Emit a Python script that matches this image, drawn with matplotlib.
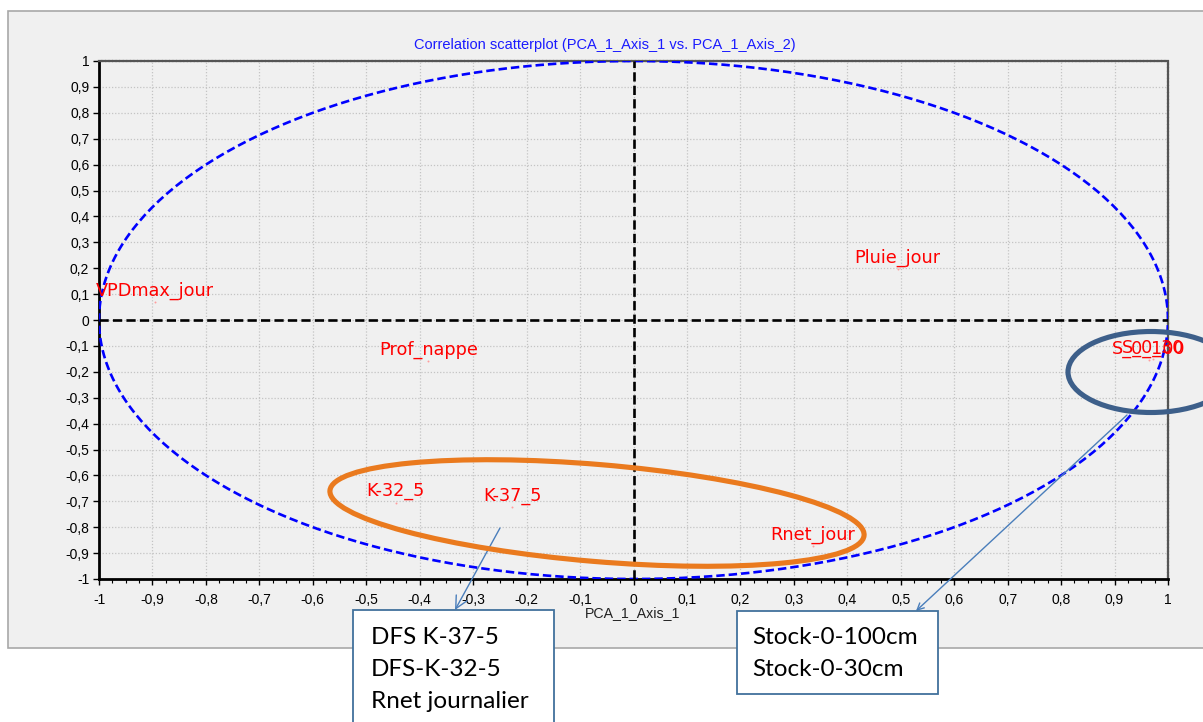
import numpy as np
import matplotlib
matplotlib.use("Agg")
import matplotlib.pyplot as plt
from matplotlib.patches import Ellipse, Rectangle
from matplotlib.ticker import MultipleLocator, FixedLocator

# ---- data ----
variables = ['VPDmax_jour', 'Pluie_jour', 'Prof_nappe', 'K-32_5', 'K-37_5',
             'Rnet_jour', 'S_0_100', 'S_0_30']
axis1 = [-0.895, 0.494, -0.384, -0.445, -0.227, 0.336, 0.964, 0.972]
axis2 = [0.071, 0.197, -0.158, -0.705, -0.721, -0.873, -0.154, -0.152]
tick_values = [round(-1 + 0.1 * i, 1) for i in range(21)]
tick_labels = [('%g' % v).replace('.', ',') for v in tick_values]
title = 'Correlation scatterplot (PCA_1_Axis_1 vs. PCA_1_Axis_2)'
xlabel = 'PCA_1_Axis_1'
box1_lines = ['DFS K-37-5', 'DFS-K-32-5', 'Rnet journalier']
box2_lines = ['Stock-0-100cm', 'Stock-0-30cm']

W, H = 1203, 722
fig = plt.figure(figsize=(W / 100, H / 100), dpi=100)
fig.patch.set_facecolor('white')

def inch(x, y):
    return (x / 100, (H - y) / 100)

# grey panel
x0, y0 = inch(8, 648)
fig.patches.append(Rectangle((x0, y0), (W - 8 + 5) / 100, (648 - 11) / 100,
                             transform=fig.dpi_scale_trans, facecolor='#f0f0f0',
                             edgecolor='#a8a8a8', linewidth=1.2, zorder=-5))

ax = fig.add_axes([99 / W, (H - 579) / H, (1168 - 99) / W, (579 - 61) / H])
ax.set_zorder(1)
ax.set_facecolor('#f0f0f0')
ax.set_xlim(-1, 1)
ax.set_ylim(-1, 1)

ax.xaxis.set_major_locator(FixedLocator(tick_values))
ax.yaxis.set_major_locator(FixedLocator(tick_values))
ax.set_xticklabels(tick_labels, fontsize=10, family='Liberation Sans')
ax.set_yticklabels(tick_labels, fontsize=10, family='Liberation Sans')
ax.xaxis.set_minor_locator(MultipleLocator(0.025))
ax.tick_params(axis='x', which='major', direction='out', length=4, width=1, pad=6)
ax.tick_params(axis='x', which='minor', direction='out', length=3, width=0.8)
ax.tick_params(axis='y', which='major', direction='out', length=4, width=1, pad=3)
ax.grid(True, which='major', color='#c4c4c4', linestyle=(0, (1, 1.5)), linewidth=0.9)
ax.set_axisbelow(True)

for s in ['left', 'bottom']:
    ax.spines[s].set_linewidth(2)
    ax.spines[s].set_color('black')
for s in ['top', 'right']:
    ax.spines[s].set_linewidth(1.6)
    ax.spines[s].set_color('#555555')
    ax.spines[s].set_linestyle((0, (1, 0.6)))

# correlation circle
t = np.linspace(0, 2 * np.pi, 400)
ax.plot(np.cos(t), np.sin(t), color='#0000ff', linewidth=1.9,
        dashes=(3.2, 1.5), zorder=3)
# axes lines
ax.plot([-1, 1], [0, 0], color='black', linewidth=1.9, dashes=(3.5, 1.6), zorder=3)
ax.plot([0, 0], [-1, 1], color='black', linewidth=1.9, dashes=(3.5, 1.6), zorder=3)

# points + labels
ax.scatter(axis1, axis2, s=2, color='#ff9c9c', zorder=4, linewidths=0)
for name, xv, yv in zip(variables, axis1, axis2):
    ax.annotate(name, (xv, yv), xytext=(0, 8), textcoords='offset points',
                ha='center', va='center', color='red', fontsize=12.7,
                family='DejaVu Sans', zorder=5, annotation_clip=False)

fig.text(605 / W, (H - 45) / H, title, color='#1a1aff', fontsize=10.5,
         family='Liberation Sans', ha='center', va='center')
fig.text(633 / W, (H - 613) / H, xlabel, color='#222222', fontsize=10.2,
         family='Liberation Sans', ha='center', va='center')

# hand-drawn highlight ellipses
c = inch(597, 513)
fig.patches.append(Ellipse(c, 5.36, 0.97, angle=-4.8, transform=fig.dpi_scale_trans,
                           fill=False, edgecolor='#ea7a1e', linewidth=3.7, zorder=6))
c = inch(1151, 372)
fig.patches.append(Ellipse(c, 1.66, 0.81, angle=0, transform=fig.dpi_scale_trans,
                           fill=False, edgecolor='#3d5f8a', linewidth=3.7, zorder=6))

# callout arrows
arrow_col = '#4a7ebb'
fig.add_artist(matplotlib.text.Annotation(
    '', xy=(455, H - 610), xycoords='figure pixels',
    xytext=(500, H - 528), textcoords='figure pixels',
    arrowprops=dict(arrowstyle='->', color=arrow_col, lw=1.0,
                    mutation_scale=22, shrinkA=0, shrinkB=0), zorder=6))
fig.add_artist(matplotlib.text.Annotation(
    '', xy=(916, H - 611), xycoords='figure pixels',
    xytext=(1127, H - 415), textcoords='figure pixels',
    arrowprops=dict(arrowstyle='->', color=arrow_col, lw=1.0,
                    mutation_scale=12, shrinkA=0, shrinkB=0), zorder=6))

# callout boxes
x0, y0 = inch(353, 740)
fig.patches.append(Rectangle((x0, y0), (554 - 353) / 100, (740 - 610) / 100,
                             transform=fig.dpi_scale_trans, facecolor='white',
                             edgecolor='#41719c', linewidth=1.3, zorder=7))
x0, y0 = inch(737, 694)
fig.patches.append(Rectangle((x0, y0), (938 - 737) / 100, (694 - 611) / 100,
                             transform=fig.dpi_scale_trans, facecolor='white',
                             edgecolor='#41719c', linewidth=1.3, zorder=7))
line_y = [638, 670, 702]
for line, yy in zip(box1_lines, line_y):
    fig.text(371 / W, (H - yy) / H, line, fontsize=17.5, family='Lato',
             color='black', ha='left', va='center', zorder=8)
for line, yy in zip(box2_lines, line_y):
    fig.text(752 / W, (H - yy) / H, line, fontsize=17.5, family='Lato',
             color='black', ha='left', va='center', zorder=8)

fig.savefig('out.png', dpi=100)
